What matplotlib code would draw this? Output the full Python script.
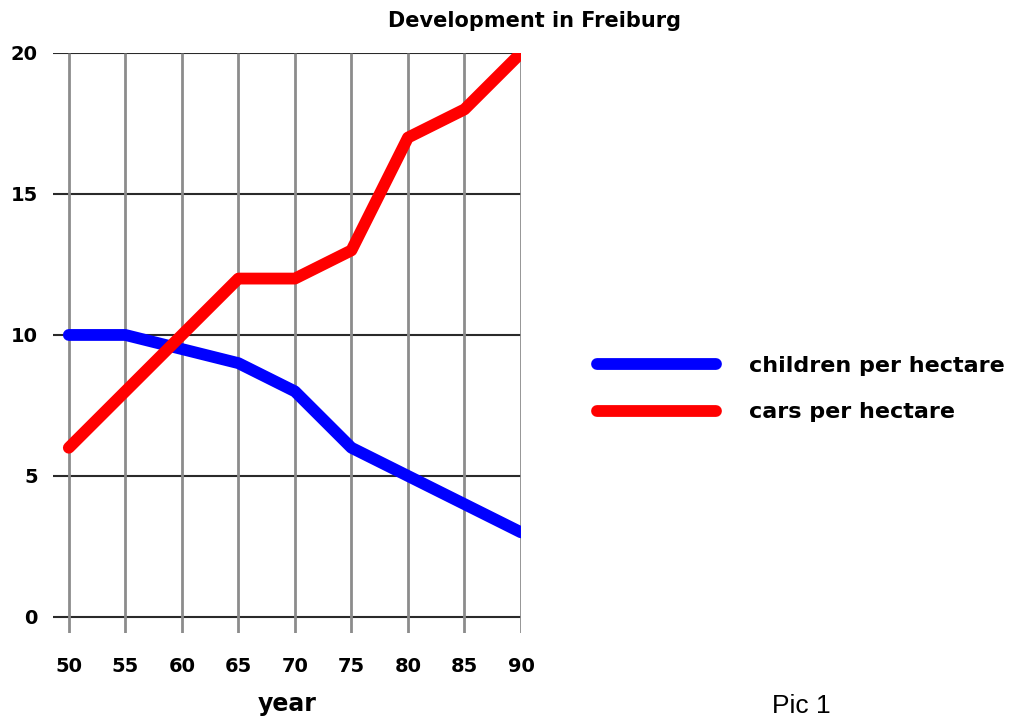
import numpy as np
import matplotlib.pyplot as plt

# data
years = [50, 55, 60, 65, 70, 75, 80, 85, 90]
children = [10, 10, 9.5, 9, 8, 6, 5, 4, 3]
cars = [6, 8, 10, 12, 12, 13, 17, 18, 20]
yticks = [0, 5, 10, 15, 20]

fig = plt.figure(figsize=(10.29, 7.17), dpi=100)
# axes box spans from the left end of the horizontal lines to the right edge,
# and from the bottom end of the vertical lines to the top line
ax = fig.add_axes([53 / 1029, 1 - 633 / 717, (521 - 53) / 1029, (633 - 53) / 717])
ax.set_xlim(48.6, 90)
ax.set_ylim(-0.57, 20)

# grid: horizontal lines reach left past 50, vertical ones reach below 0
ax.hlines(yticks, 48.6, 90, color='#2a2a2a', lw=1.5, zorder=1)
ax.vlines(years, -0.57, 20, color='#8c8c8c', lw=2, zorder=1)

ax.plot(years, children, color='#0000ff', lw=8.5, solid_capstyle='round',
        solid_joinstyle='round', label='children per hectare', zorder=3)
ax.plot(years, cars, color='#ff0000', lw=8.5, solid_capstyle='round',
        solid_joinstyle='round', label='cars per hectare', zorder=3)

for s in ax.spines.values():
    s.set_visible(False)
ax.set_xticks(years)
ax.set_yticks(yticks)
ax.tick_params(length=0, labelsize=14)
ax.tick_params(axis='x', pad=17)
ax.tick_params(axis='y', pad=11)
for lab in ax.get_xticklabels() + ax.get_yticklabels():
    lab.set_fontweight('bold')

ax.set_xlabel('year', fontsize=17, fontweight='bold', labelpad=12)

fig.text(535 / 1029, 1 - 21 / 717, 'Development in Freiburg', ha='center',
         va='center', fontsize=15, fontweight='bold')
fig.text(801 / 1029, 1 - 706 / 717, 'Pic 1', ha='center', va='center',
         fontsize=19, family='Liberation Sans')

ax.legend(loc='center left', bbox_to_anchor=(524 / 468, (633 - 389) / 580),
          frameon=False, prop={'size': 16, 'weight': 'bold'},
          handlelength=5.35, handletextpad=1.5, labelspacing=1.2)

fig.savefig('out.png', dpi=100)
